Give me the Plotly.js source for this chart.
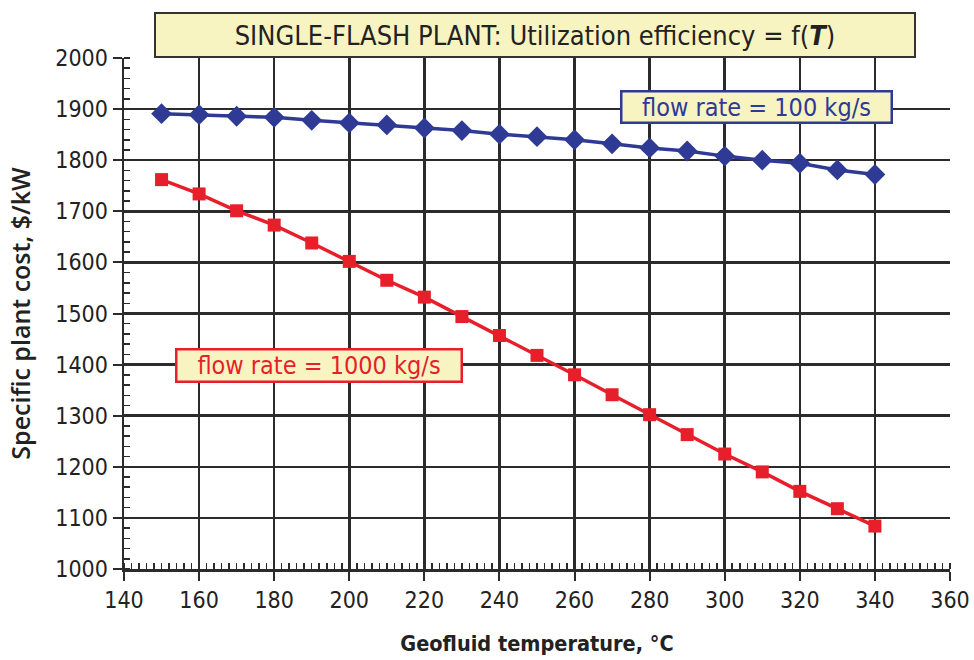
<!DOCTYPE html>
<html><head><meta charset="utf-8">
<script src="https://cdn.plot.ly/plotly-3.0.1.min.js"></script>
<style>body{margin:0;background:#fff}#chart{width:974px;height:660px}</style>
</head><body><div id="chart"></div>
<script>
const temperatures = [150,160,170,180,190,200,210,220,230,240,250,260,270,280,290,300,310,320,330,340];
const cost100 = [1891,1889,1886,1884,1878,1873,1869,1863,1858,1851,1846,1840,1832,1824,1818,1808,1800,1794,1781,1772];
const cost1000 = [1762,1734,1701,1673,1638,1602,1565,1532,1494,1457,1418,1380,1341,1302,1263,1225,1190,1152,1118,1084];
const label100 = 'flow rate = 100 kg/s';
const label1000 = 'flow rate = 1000 kg/s';
const chartTitle = 'SINGLE-FLASH PLANT: Utilization efficiency = f(<b><i>T</i></b>)';
const xTitle = 'Geofluid temperature, °C';
const yTitle = 'Specific plant cost, $/kW';

const FONT = "'DejaVu Sans Condensed', sans-serif";
const BLUE = '#2e3a94', RED = '#e61f2b', YEL = '#f7f4c2', GRID = '#2b2b2b';

const traces = [
  {x: temperatures, y: cost100, mode: 'lines+markers', name: label100,
   line: {color: BLUE, width: 3.5}, marker: {symbol: 'diamond', size: 16, color: BLUE}},
  {x: temperatures, y: cost1000, mode: 'lines+markers', name: label1000,
   line: {color: RED, width: 3.5}, marker: {symbol: 'square', size: 13, color: RED}}
];

const layout = {
  width: 974, height: 660,
  margin: {l: 124, r: 24, t: 58, b: 91},
  paper_bgcolor: '#fff', plot_bgcolor: '#fff',
  showlegend: false,
  font: {family: FONT, color: '#222', size: 20},
  xaxis: {
    range: [140, 360], dtick: 20, tick0: 140,
    showgrid: true, gridcolor: GRID, gridwidth: 2.5,
    zeroline: false, showline: true, linecolor: GRID, linewidth: 2.5,
    ticks: 'outside', ticklen: 9, tickwidth: 2, tickcolor: GRID,
    minor: {dtick: 2, ticks: 'inside', ticklen: 6, tickwidth: 1.5, tickcolor: GRID, showgrid: false},
    tickfont: {size: 23, family: FONT, color: '#222'},
    title: {text: xTitle, font: {size: 21.5, family: FONT, color: '#222', weight: 'bold'}, standoff: 24}
  },
  yaxis: {
    range: [1000, 2000], dtick: 100, tick0: 1000,
    showgrid: true, gridcolor: GRID, gridwidth: 2.5,
    zeroline: false, showline: true, linecolor: GRID, linewidth: 2.5,
    ticks: 'outside', ticklen: 9, tickwidth: 2, tickcolor: GRID,
    minor: {dtick: 20, ticks: 'inside', ticklen: 6, tickwidth: 1.5, tickcolor: GRID, showgrid: false},
    tickfont: {size: 23, family: FONT, color: '#222'},
    title: {text: yTitle, font: {size: 25, family: "'Open Sans', sans-serif", color: '#222', weight: 600}, standoff: 18}
  },
  annotations: [
    {xref: 'paper', yref: 'paper', x: 0.4976, y: 1.045, text: chartTitle, showarrow: false,
     width: 756, height: 40, bgcolor: YEL, bordercolor: '#333', borderwidth: 2, borderpad: 1,
     font: {size: 27, family: FONT, color: '#222'}, xanchor: 'center', yanchor: 'middle'},
    {x: 308.4, y: 1905, text: label100, showarrow: false,
     width: 268, height: 29, bgcolor: YEL, bordercolor: BLUE, borderwidth: 2.5, borderpad: 0,
     font: {size: 25, family: FONT, color: BLUE}, xanchor: 'center', yanchor: 'middle'},
    {x: 191.9, y: 1399, text: label1000, showarrow: false,
     width: 283, height: 30, bgcolor: YEL, bordercolor: RED, borderwidth: 2.5, borderpad: 0,
     font: {size: 25, family: FONT, color: RED}, xanchor: 'center', yanchor: 'middle'}
  ]
};

Plotly.newPlot('chart', traces, layout, {displayModeBar: false, staticPlot: true});
</script></body></html>
